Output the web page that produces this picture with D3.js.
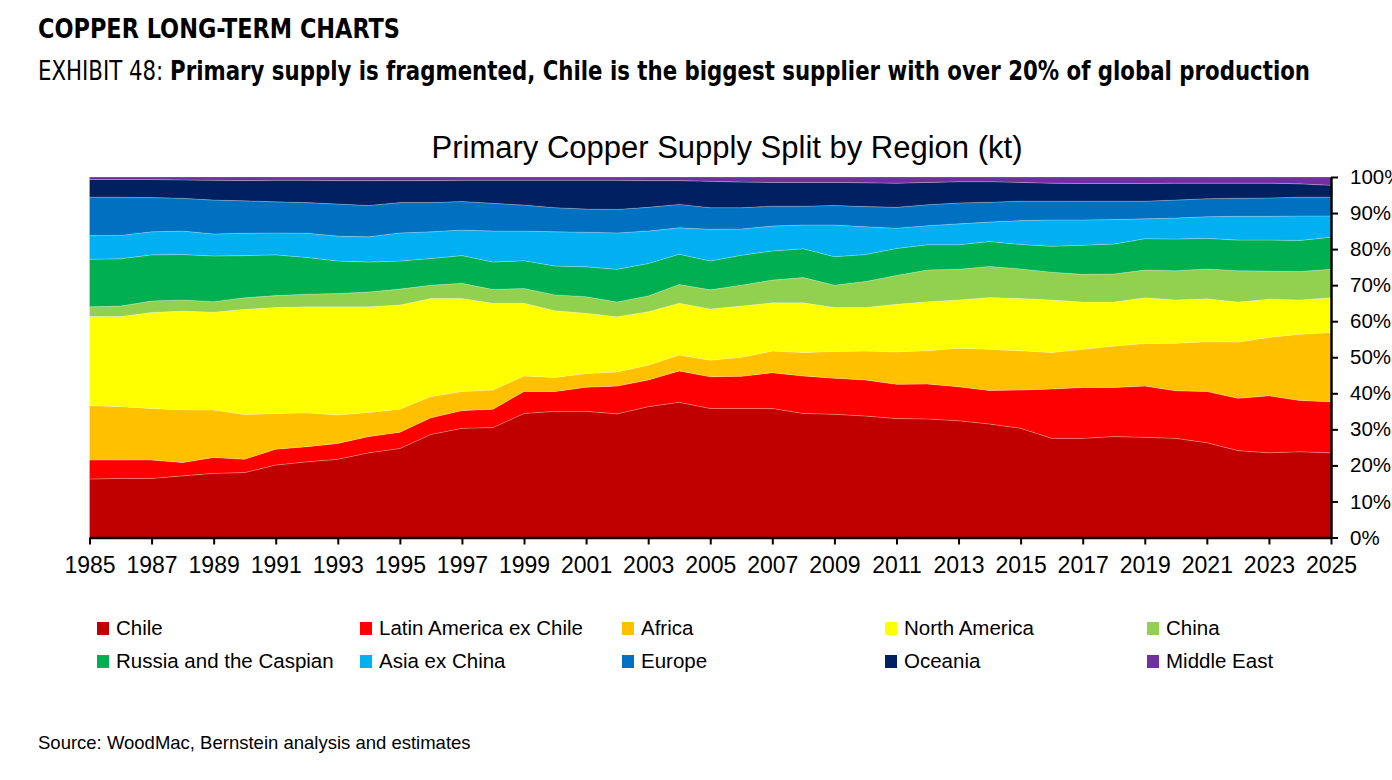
<!DOCTYPE html>
<html>
<head>
<meta charset="utf-8">
<script src="https://cdn.jsdelivr.net/npm/d3@7"></script>
<style>
  html, body { margin: 0; padding: 0; background: #fff; }
  svg { display: block; }
</style>
</head>
<body>
<svg id="chart" width="1392" height="780"></svg>
<script>
// ---------- DATA (shares of primary copper supply, % of total) ----------
const years = d3.range(1985, 2026);
const regions = ["Chile", "Latin America ex Chile", "Africa", "North America", "China",
                 "Russia and the Caspian", "Asia ex China", "Europe", "Oceania", "Middle East"];
const colors = ["#C00000", "#FF0000", "#FFC000", "#FFFF00", "#92D050",
                "#00B050", "#00B0F0", "#0070C0", "#002060", "#7030A0"];

const chile = [16.2,16.4,16.4,17.1,17.8,18.0,20.1,21.0,21.7,23.5,24.7,28.6,30.3,30.5,34.4,35.0,35.0,34.3,36.3,37.5,35.8,35.8,35.8,34.4,34.2,33.7,33.0,32.9,32.4,31.5,30.3,27.5,27.5,28.0,27.8,27.5,26.3,24.1,23.5,23.8,23.5];
const latamExChile = [5.3,5.1,5.1,3.7,4.4,3.7,4.4,4.2,4.4,4.5,4.5,4.6,4.9,5.1,6.1,5.5,6.7,7.7,7.4,8.7,8.8,8.9,9.9,10.4,10.0,10.0,9.5,9.7,9.4,9.3,10.6,13.7,14.1,13.6,14.2,13.2,14.2,14.5,15.8,14.2,14.2];
const africa = [15.1,14.8,14.3,14.6,13.2,12.4,9.9,9.4,7.9,6.7,6.4,5.9,5.3,5.3,4.3,3.9,3.8,3.9,4.1,4.4,4.6,5.3,6.0,6.5,7.4,8.0,9.0,9.2,10.7,11.4,10.9,10.1,10.6,11.5,11.8,13.2,13.8,15.6,16.2,18.4,19.2];
const northAmerica = [24.7,25.0,26.6,27.4,27.1,29.2,29.4,29.4,30.0,29.3,28.9,27.2,25.8,24.1,20.2,18.5,16.7,15.3,14.8,14.4,14.2,14.2,13.4,13.8,12.2,12.1,13.2,13.6,13.4,14.4,14.5,14.6,13.1,12.2,12.7,12.0,11.9,11.1,10.6,9.5,9.7];
const china = [2.7,2.9,3.2,3.1,2.9,3.2,3.3,3.5,3.7,4.1,4.4,3.7,4.2,3.8,4.1,4.4,4.6,4.1,4.4,5.2,5.3,5.8,6.3,7.0,6.2,7.2,8.0,8.8,8.5,8.6,8.2,7.7,7.7,7.8,7.7,8.1,8.3,8.7,7.8,7.9,7.9];
const russiaCaspian = [13.2,13.1,12.8,12.6,12.7,11.7,11.3,10.2,9.0,8.3,7.8,7.4,7.7,7.6,7.7,8.0,8.3,9.1,9.0,8.4,8.0,8.3,8.1,8.0,7.9,7.5,7.5,7.0,6.8,6.9,6.8,7.2,8.1,8.3,8.7,8.8,8.5,8.5,8.6,8.6,8.9];
const asiaExChina = [6.6,6.5,6.4,6.5,6.1,6.2,6.1,6.7,6.9,7.0,7.8,7.4,7.1,8.6,8.2,9.5,9.6,10.1,9.0,7.3,8.8,7.3,6.9,6.6,8.8,7.7,5.6,5.3,5.8,5.4,6.6,7.3,7.0,6.8,5.5,5.8,6.0,6.6,6.6,6.8,5.9];
const europe = [10.6,10.6,9.5,9.1,9.4,9.0,8.6,8.5,8.9,8.7,8.4,8.1,7.9,7.7,7.2,6.7,6.4,6.5,6.6,6.5,6.0,5.9,5.5,5.2,5.4,5.6,5.8,5.8,5.8,5.5,5.4,5.2,5.2,5.1,4.9,5.0,5.0,5.0,5.1,5.2,5.2];
const oceania = [4.9,4.9,5.0,5.1,5.5,5.6,6.0,6.2,6.5,6.9,6.1,6.1,5.9,6.4,6.9,7.6,8.0,8.1,7.4,6.6,7.3,7.1,6.6,6.6,6.4,6.6,6.7,6.2,5.9,5.7,5.2,5.0,4.9,4.9,4.9,4.7,4.3,4.2,4.1,3.7,3.3];
const middleEast = [0.7,0.7,0.7,0.8,0.9,1.0,0.9,0.9,1.0,1.0,1.0,1.0,0.9,0.9,0.9,0.9,0.9,0.9,1.0,1.0,1.2,1.4,1.5,1.5,1.5,1.6,1.7,1.5,1.3,1.3,1.5,1.7,1.8,1.8,1.8,1.7,1.7,1.7,1.7,1.9,2.3];

const xTickYears = d3.range(1985, 2026, 2);
const yTickValues = d3.range(0, 1.0001, 0.1);

const titleText = "Primary Copper Supply Split by Region (kt)";
const headerText = "COPPER LONG-TERM CHARTS";
const exhibitLabel = "EXHIBIT 48: ";
const exhibitText = "Primary supply is fragmented, Chile is the biggest supplier with over 20% of global production";
const sourceText = "Source: WoodMac, Bernstein analysis and estimates";

// ---------- BUILD ----------
const seriesArrays = [chile, latamExChile, africa, northAmerica, china, russiaCaspian, asiaExChina, europe, oceania, middleEast];
const table = years.map((yr, i) => {
  const row = { year: yr };
  regions.forEach((r, k) => row[r] = seriesArrays[k][i]);
  return row;
});

const svg = d3.select("#chart");
const chartFont = "'Liberation Sans', Arial, Helvetica, sans-serif";
const headFont = "'Liberation Sans Narrow', 'DejaVu Sans Condensed', 'Liberation Sans', sans-serif";

const x = d3.scaleLinear().domain([1985, 2025]).range([89.5, 1331]);
const y = d3.scaleLinear().domain([0, 1]).range([537.5, 177]);
const color = d3.scaleOrdinal().domain(regions).range(colors);

const stack = d3.stack().keys(regions).offset(d3.stackOffsetExpand);
const layers = stack(table);

const area = d3.area()
  .x(d => x(d.data.year))
  .y0(d => y(d[0]))
  .y1(d => y(d[1]));

svg.append("g").selectAll("path")
  .data(layers)
  .join("path")
  .attr("d", area)
  .attr("fill", d => color(d.key))
  .attr("stroke", "rgba(255,255,255,0.35)")
  .attr("stroke-width", 0.6);

// Bottom axis
const xAxis = svg.append("g")
  .attr("transform", `translate(0,${y(0)})`)
  .call(d3.axisBottom(x).tickValues(xTickYears).tickFormat(d3.format("d")).tickSize(7).tickPadding(12).tickSizeOuter(0));
xAxis.select(".domain").attr("stroke", "#000").attr("stroke-width", 2.5);
xAxis.selectAll(".tick line").attr("stroke", "#000").attr("stroke-width", 2);
xAxis.selectAll("text").attr("font-family", chartFont).attr("font-size", 23).attr("fill", "#000");

// Right axis
const yAxis = svg.append("g")
  .attr("transform", `translate(${x(2025)},0)`)
  .call(d3.axisRight(y).tickValues(yTickValues).tickFormat(d3.format(".0%")).tickSize(7).tickPadding(12).tickSizeOuter(0));
yAxis.select(".domain").attr("stroke", "#000").attr("stroke-width", 2.5);
yAxis.selectAll(".tick line").attr("stroke", "#000").attr("stroke-width", 2);
yAxis.selectAll("text").attr("font-family", chartFont).attr("font-size", 20.5).attr("fill", "#000");

// Chart title
svg.append("text")
  .attr("x", 727).attr("y", 158)
  .attr("text-anchor", "middle")
  .attr("font-family", chartFont).attr("font-size", 31)
  .attr("fill", "#000")
  .text(titleText);

// Header
svg.append("text")
  .attr("x", 38).attr("y", 38)
  .attr("font-family", headFont).attr("font-weight", "bold").attr("font-size", 26)
  .attr("textLength", 362).attr("lengthAdjust", "spacingAndGlyphs")
  .attr("fill", "#000")
  .text(headerText);

const ex = svg.append("text")
  .attr("x", 38).attr("y", 80)
  .attr("font-family", headFont).attr("font-size", 26)
  .attr("textLength", 1272).attr("lengthAdjust", "spacingAndGlyphs")
  .attr("fill", "#000");
ex.append("tspan").attr("font-weight", "normal").text(exhibitLabel);
ex.append("tspan").attr("font-weight", "bold").text(exhibitText);

// Legend
const legendX = [97, 360, 622, 885, 1147];
const legendY = [628, 661];
const leg = svg.append("g").selectAll("g")
  .data(regions)
  .join("g")
  .attr("transform", (d, i) => `translate(${legendX[i % 5]},${legendY[Math.floor(i / 5)]})`);
leg.append("rect")
  .attr("x", 0).attr("y", -6).attr("width", 12).attr("height", 13)
  .attr("fill", d => color(d));
leg.append("text")
  .attr("x", 19).attr("y", 0).attr("dy", "0.35em")
  .attr("font-family", chartFont).attr("font-size", 20.5)
  .attr("fill", "#000")
  .text(d => d);

// Source
svg.append("text")
  .attr("x", 38).attr("y", 749)
  .attr("font-family", chartFont).attr("font-size", 18.5)
  .attr("fill", "#000")
  .text(sourceText);
</script>
</body>
</html>
